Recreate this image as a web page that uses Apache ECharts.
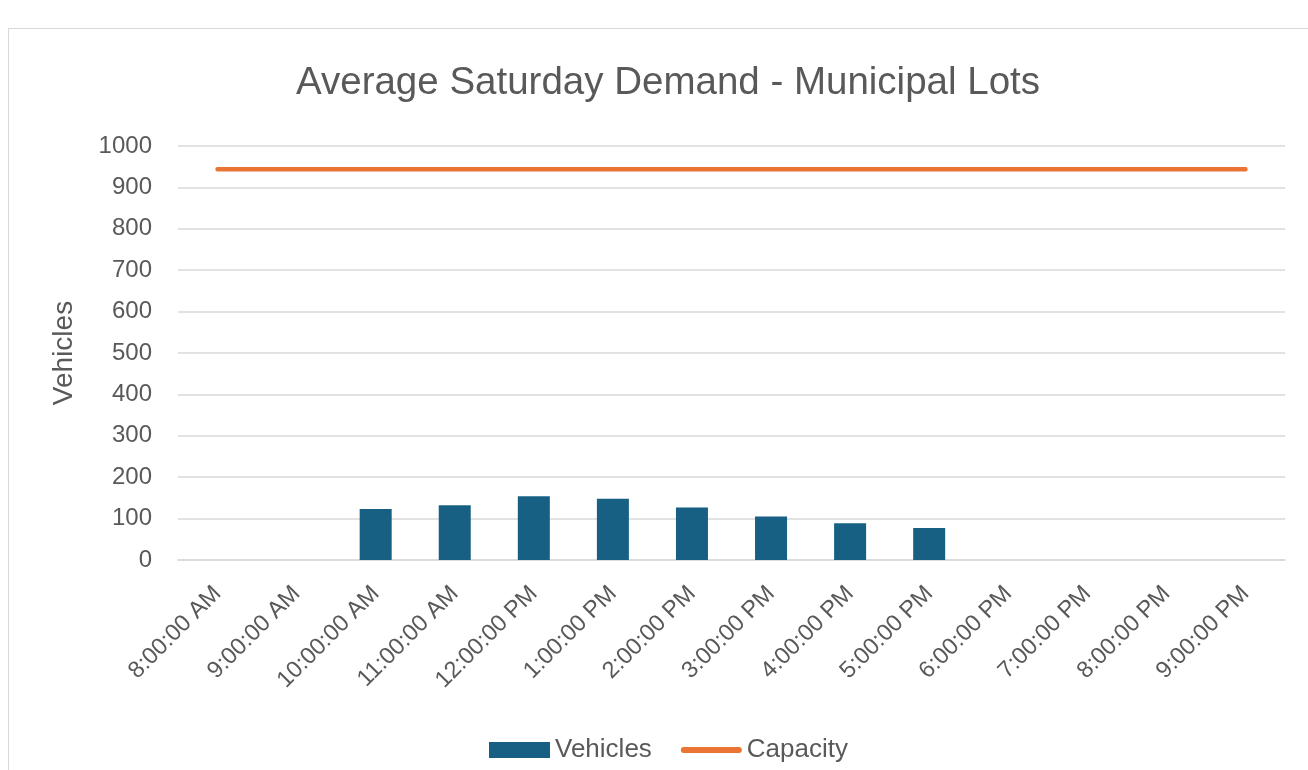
<!DOCTYPE html>
<html>
<head>
<meta charset="utf-8">
<script src="https://cdn.jsdelivr.net/npm/echarts@6/dist/echarts.min.js"></script>
<style>
  html, body { margin: 0; padding: 0; background: #fff; }
  #frame { position: absolute; left: 8px; top: 28px; width: 1310px; height: 760px; border: 1px solid #d9d9d9; box-sizing: border-box; }
  #main { position: absolute; left: 0; top: 0; width: 1308px; height: 770px; }
</style>
</head>
<body>
<div id="frame"></div>
<div id="main"></div>
<script>
// 数据
var hours = ['8:00:00 AM', '9:00:00 AM', '10:00:00 AM', '11:00:00 AM', '12:00:00 PM', '1:00:00 PM', '2:00:00 PM',
             '3:00:00 PM', '4:00:00 PM', '5:00:00 PM', '6:00:00 PM', '7:00:00 PM', '8:00:00 PM', '9:00:00 PM'];
var vehicles = [null, null, 123, 132, 154, 148, 127, 105, 89, 77, null, null, null, null];
var capacity = [944, 944, 944, 944, 944, 944, 944, 944, 944, 944, 944, 944, 944, 944];

var myChart = echarts.init(document.getElementById('main'));

var textColor = '#595959';
var font = '"Liberation Sans", Arial, sans-serif';

option = {
    backgroundColor: 'transparent',
    animation: false,
    title: {
        text: 'Average Saturday Demand - Municipal Lots',
        left: 663,
        textAlign: 'center',
        top: 59,
        textStyle: { fontSize: 38.5, fontWeight: 'normal', color: textColor, fontFamily: font }
    },
    legend: {
        bottom: 2,
        left: 484,
        itemGap: 29,
        itemWidth: 61,
        itemHeight: 16,
        textStyle: { fontSize: 26, color: textColor, fontFamily: font },
        data: [
            { name: 'Vehicles', icon: 'rect' },
            { name: 'Capacity', icon: 'path://M0,0 M3,5 L59,5 A3,3 0 0 1 59,11 L3,11 A3,3 0 0 1 3,5 Z M62,16' }
        ]
    },
    grid: {
        left: 178,
        right: 23,
        top: 146,
        bottom: 210
    },
    xAxis: {
        type: 'category',
        data: hours,
        axisLine: { lineStyle: { color: '#d9d9d9', width: 1.5 } },
        axisTick: { show: false },
        axisLabel: {
            rotate: 45,
            fontSize: 23.5,
            color: textColor,
            fontFamily: font,
            interval: 0,
            margin: 30
        }
    },
    yAxis: {
        type: 'value',
        min: 0,
        max: 1000,
        interval: 100,
        name: 'Vehicles',
        nameLocation: 'middle',
        nameGap: 100,
        nameRotate: 90,
        nameTextStyle: { fontSize: 28, color: textColor, fontFamily: font },
        axisLine: { show: false },
        axisTick: { show: false },
        axisLabel: {
            fontSize: 24, color: textColor, fontFamily: font, margin: 26,
            formatter: function (v) { return String(v); }
        },
        splitLine: { lineStyle: { color: '#d9d9d9', width: 1.5 } }
    },
    series: [
        {
            name: 'Vehicles',
            type: 'bar',
            data: vehicles,
            barWidth: 32,
            itemStyle: { color: '#176083' }
        },
        {
            name: 'Capacity',
            type: 'line',
            data: capacity,
            showSymbol: false,
            symbol: 'none',
            lineStyle: { color: '#ea7434', width: 4.5, cap: 'round' },
            itemStyle: { color: '#ea7434' }
        }
    ]
};

myChart.setOption(option);
</script>
</body>
</html>
